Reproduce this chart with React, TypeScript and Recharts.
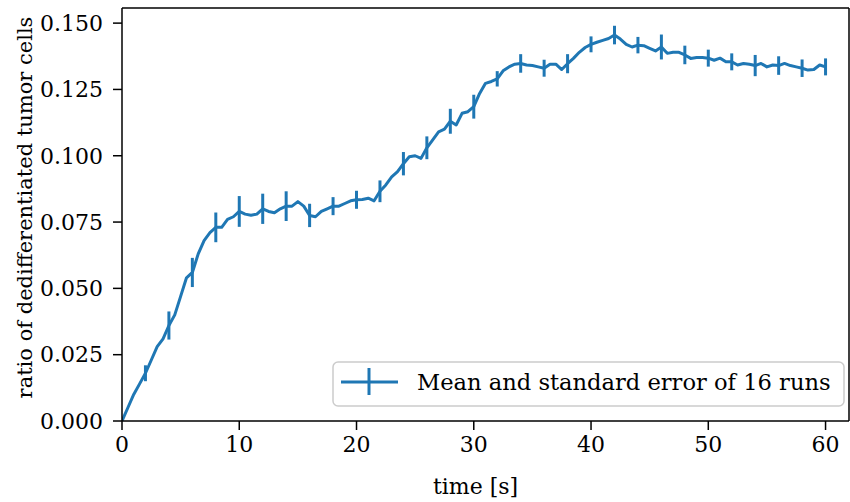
import React from 'react';
import { LineChart, Line, XAxis, YAxis, ErrorBar, Legend, ReferenceLine } from 'recharts';

const TIME = [
  0, 0.5, 1, 1.5, 2, 2.5, 3, 3.5, 4, 4.5, 5, 5.5, 6, 6.5, 7, 7.5, 8, 8.5, 9, 9.5,
  10, 10.5, 11, 11.5, 12, 12.5, 13, 13.5, 14, 14.5, 15, 15.5, 16, 16.5, 17, 17.5, 18, 18.5, 19, 19.5,
  20, 20.5, 21, 21.5, 22, 22.5, 23, 23.5, 24, 24.5, 25, 25.5, 26, 26.5, 27, 27.5, 28, 28.5, 29, 29.5,
  30, 30.5, 31, 31.5, 32, 32.5, 33, 33.5, 34, 34.5, 35, 35.5, 36, 36.5, 37, 37.5, 38, 38.5, 39, 39.5,
  40, 40.5, 41, 41.5, 42, 42.5, 43, 43.5, 44, 44.5, 45, 45.5, 46, 46.5, 47, 47.5, 48, 48.5, 49, 49.5,
  50, 50.5, 51, 51.5, 52, 52.5, 53, 53.5, 54, 54.5, 55, 55.5, 56, 56.5, 57, 57.5, 58, 58.5, 59, 59.5,
  60,
];

const MEAN = [
  0.0, 0.005, 0.01, 0.014, 0.018, 0.023, 0.028, 0.031, 0.036, 0.04, 0.047, 0.054, 0.056, 0.063, 0.068, 0.071, 0.073, 0.073, 0.076, 0.077,
  0.079, 0.078, 0.0776, 0.078, 0.08, 0.079, 0.0785, 0.08, 0.081, 0.081, 0.0827, 0.081, 0.0775, 0.077, 0.079, 0.08, 0.081, 0.081, 0.082, 0.083,
  0.0834, 0.0835, 0.084, 0.083, 0.0866, 0.089, 0.092, 0.094, 0.097, 0.0996, 0.1, 0.099, 0.103, 0.106, 0.109, 0.11, 0.113, 0.1116, 0.116, 0.1166,
  0.1185, 0.1235, 0.1273, 0.128, 0.129, 0.132, 0.1335, 0.1345, 0.1348, 0.1342, 0.134, 0.1335, 0.133, 0.1345, 0.1345, 0.1325, 0.1347, 0.1367, 0.139, 0.1408,
  0.142, 0.1428, 0.1435, 0.1442, 0.1455, 0.144, 0.142, 0.141, 0.1417, 0.1415, 0.1405, 0.1395, 0.141, 0.1386, 0.139, 0.139, 0.138, 0.1367, 0.137, 0.137,
  0.1368, 0.136, 0.1368, 0.1354, 0.1354, 0.1342, 0.1348, 0.1345, 0.134, 0.1348, 0.1335, 0.1342, 0.134, 0.1348, 0.134, 0.1335, 0.133, 0.1323, 0.1325, 0.1342,
  0.1335,
];

const ERR_TIME = [0, 2, 4, 6, 8, 10, 12, 14, 16, 18, 20, 22, 24, 26, 28, 30, 32, 34, 36, 38, 40, 42, 44, 46, 48, 50, 52, 54, 56, 58, 60];
const ERR = [
  0, 0.003, 0.0053, 0.0055, 0.0056, 0.0058, 0.0057, 0.0056, 0.0044, 0.0034, 0.0034, 0.0041, 0.0044, 0.0043, 0.0047, 0.0045,
  0.0029, 0.0035, 0.0032, 0.0036, 0.003, 0.0035, 0.0031, 0.0047, 0.0035, 0.0032, 0.0032, 0.004, 0.0035, 0.0033, 0.0032,
];

const X_TICKS = [0, 10, 20, 30, 40, 50, 60];
const Y_TICKS = [0, 0.025, 0.05, 0.075, 0.1, 0.125, 0.15];
const X_MAX = 62;
const Y_MAX = 0.1557;

const X_LABEL = 'time [s]';
const Y_LABEL = 'ratio of dedifferentiated tumor cells';
const LEGEND_LABEL = 'Mean and standard error of 16 runs';

const data = TIME.map((t, i) => {
  const k = ERR_TIME.indexOf(t);
  return { t, mean: MEAN[i], err: k >= 0 ? ERR[k] : undefined };
});

const FONT = '"DejaVu Serif", serif';
const FS = 22;
const BLUE = '#1f77b4';

const YLabel = (props: any) => {
  const vb = props.viewBox || { x: 0, y: 8, width: 122, height: 413 };
  const cx = 25;
  const cy = vb.y + vb.height / 2 - 7;
  return (
    <text
      x={cx}
      y={cy}
      transform={`rotate(-90, ${cx}, ${cy})`}
      textAnchor="middle"
      dominantBaseline="central"
      fontFamily={FONT}
      fontSize={21}
      fill="#000"
    >
      {Y_LABEL}
    </text>
  );
};

const XLabel = (props: any) => {
  const vb = props.viewBox || { x: 122, y: 421, width: 727, height: 81 };
  const cx = vb.x + vb.width / 2 - 10;
  return (
    <text x={cx} y={494} textAnchor="middle" fontFamily={FONT} fontSize={FS} fill="#000">
      {X_LABEL}
    </text>
  );
};

const LegendBox = () => (
  <svg width={514} height={47} style={{ display: 'block' }}>
    <rect x={1} y={1} width={511} height={44} rx={5} ry={5} fill="#fff" fillOpacity={0.8} stroke="#cccccc" strokeWidth={1.5} />
    <line x1={9} x2={66} y1={21} y2={21} stroke={BLUE} strokeWidth={3} />
    <line x1={37} x2={37} y1={7} y2={34} stroke={BLUE} strokeWidth={3} />
    <text x={85} y={29} fontFamily={FONT} fontSize={22.6} fill="#000">
      {LEGEND_LABEL}
    </text>
  </svg>
);

export default function App() {
  return (
    <div style={{ position: 'absolute', left: 0, top: 0, width: 850, height: 502, background: '#fff' }}>
      <LineChart width={850} height={502} data={data} margin={{ top: 8, right: 1, bottom: 0, left: 0 }}>
        <XAxis
          dataKey="t"
          type="number"
          domain={[0, X_MAX]}
          ticks={X_TICKS}
          allowDataOverflow
          height={81}
          tickSize={9}
          tickMargin={6}
          axisLine={{ stroke: '#000', strokeWidth: 1.5 }}
          tickLine={{ stroke: '#000', strokeWidth: 1.5 }}
          tick={{ fill: '#000', fontFamily: FONT, fontSize: FS }}
          label={<XLabel />}
        />
        <YAxis
          type="number"
          domain={[0, Y_MAX]}
          ticks={Y_TICKS}
          allowDataOverflow
          width={122}
          tickSize={9}
          tickMargin={10}
          tickFormatter={(v: number) => v.toFixed(3)}
          axisLine={{ stroke: '#000', strokeWidth: 1.5 }}
          tickLine={{ stroke: '#000', strokeWidth: 1.5 }}
          tick={{ fill: '#000', fontFamily: FONT, fontSize: FS }}
          label={<YLabel />}
        />
        <ReferenceLine y={Y_MAX} stroke="#000" strokeWidth={1.5} ifOverflow="visible" />
        <ReferenceLine x={X_MAX} stroke="#000" strokeWidth={1.5} ifOverflow="visible" />
        <Legend
          layout="horizontal"
          verticalAlign="middle"
          align="center"
          content={<LegendBox />}
          wrapperStyle={{ left: 332, top: 361, width: 514, height: 47 }}
        />
        <Line
          dataKey="mean"
          type="linear"
          stroke={BLUE}
          strokeWidth={3}
          strokeLinejoin="round"
          dot={false}
          activeDot={false}
          isAnimationActive={false}
        >
          <ErrorBar dataKey="err" width={0} stroke={BLUE} strokeWidth={3} direction="y" isAnimationActive={false} />
        </Line>
      </LineChart>
    </div>
  );
}
